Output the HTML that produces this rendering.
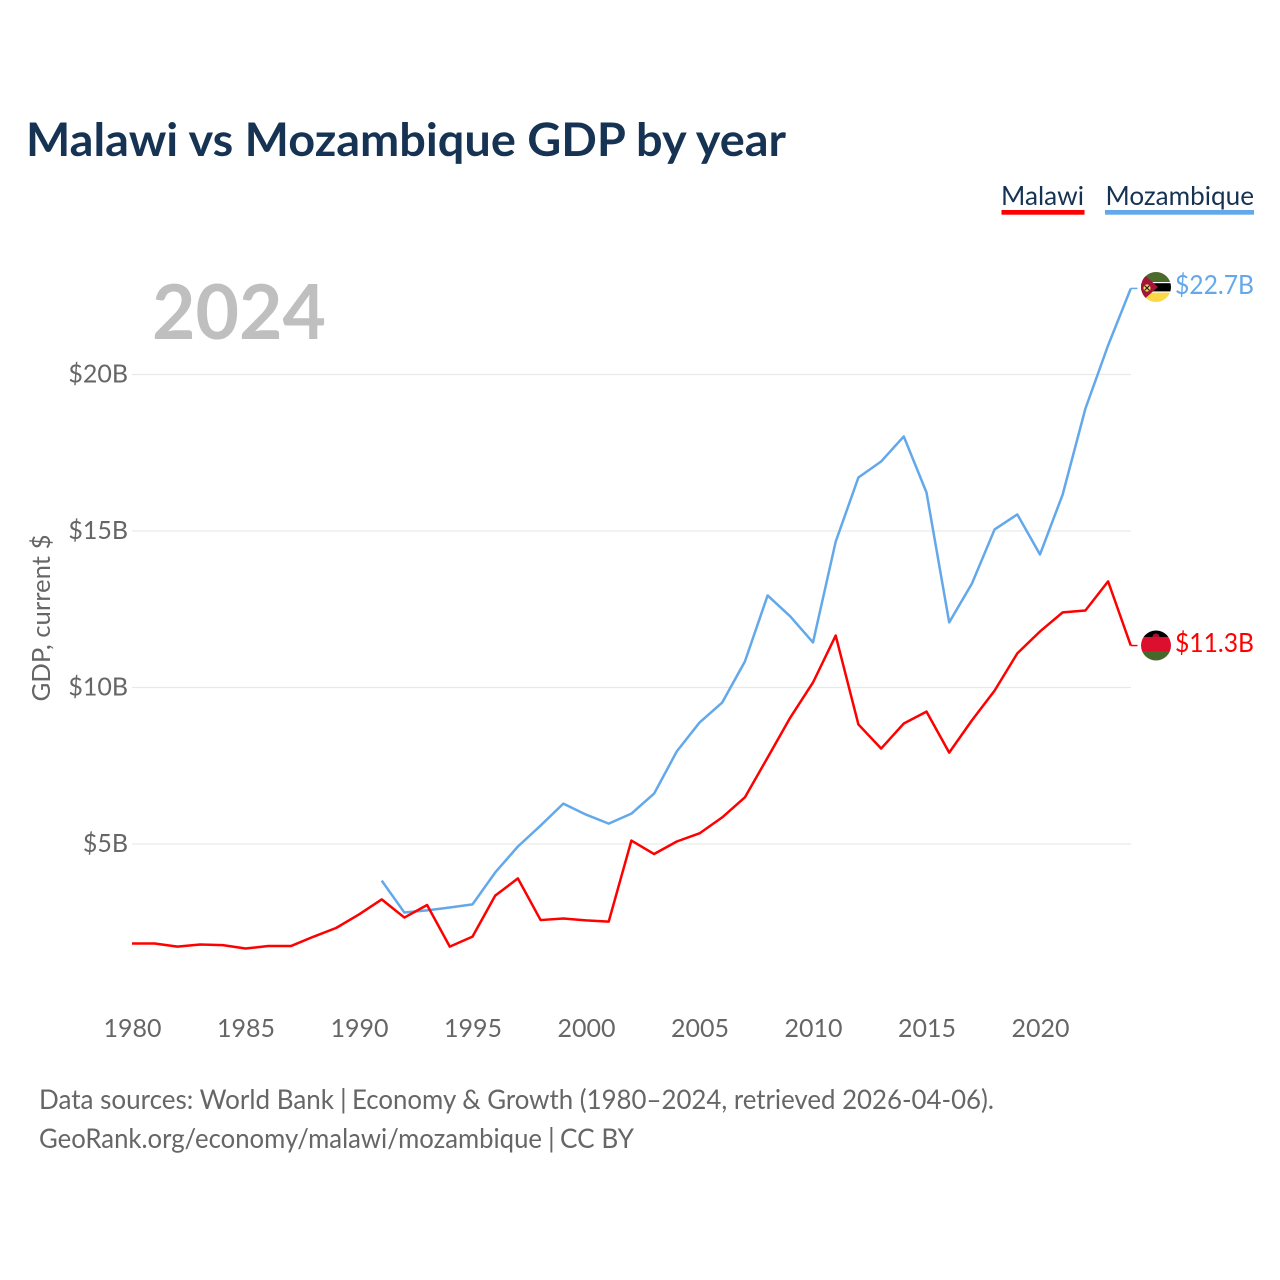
<!DOCTYPE html>
<html lang="en">
<head>
<meta charset="utf-8">
<title>Malawi vs Mozambique GDP by year</title>
<style>
html,body{margin:0;padding:0;background:#fff;width:1280px;height:1280px;overflow:hidden}
svg{display:block}
text{font-family:"Lato","Carlito","Liberation Sans",sans-serif}
</style>
</head>
<body>
<svg id="chart" xmlns="http://www.w3.org/2000/svg" width="1280" height="1280" viewBox="0 0 1280 1280">
<rect width="1280" height="1280" fill="#fff"/>
<text x="26" y="156" font-size="46" font-weight="700" fill="#163353" textLength="760" lengthAdjust="spacingAndGlyphs">Malawi vs Mozambique GDP by year</text>
<g>
<g>
<text x="1001" y="205" font-size="26" fill="#163353" textLength="83" lengthAdjust="spacingAndGlyphs">Malawi</text>
<rect x="1001.5" y="210" width="83" height="4.7" fill="#ff0000"/>
</g>
<g>
<text x="1105.5" y="205" font-size="26" fill="#163353" textLength="148.5" lengthAdjust="spacingAndGlyphs">Mozambique</text>
<rect x="1105" y="210" width="149" height="4.7" fill="#62a8ea"/>
</g>
</g>
<text x="152" y="339" font-size="76" font-weight="700" fill="#bfbfbf" textLength="174" lengthAdjust="spacingAndGlyphs">2024</text>
<text transform="translate(50,618) rotate(-90)" text-anchor="middle" font-size="25" fill="#666" textLength="167" lengthAdjust="spacingAndGlyphs">GDP, current $</text>
<g id="grid"></g>
<g id="yticks"></g>
<g id="xticks"></g>
<g id="series"></g>
<defs>
<clipPath id="clip-moz"><circle cx="1156" cy="287" r="15"/></clipPath>
<clipPath id="clip-mwi"><circle cx="1156" cy="645.5" r="15"/></clipPath>
</defs>
<g clip-path="url(#clip-moz)">
<rect x="1141" y="272" width="30" height="10" fill="#4a6b2a"/>
<rect x="1141" y="282" width="30" height="11" fill="#fff"/>
<rect x="1141" y="283.2" width="30" height="8.2" fill="#000"/>
<rect x="1141" y="292.6" width="30" height="10" fill="#fcd846"/>
<polygon points="1141,272 1158,287 1141,302" fill="#a5153a"/>
<circle cx="1147" cy="288" r="3.6" fill="#f4d35a"/>
<path d="M1144.5 285.5l5 5M1149.5 285.5l-5 5" stroke="#222" stroke-width="1.2"/>
</g>
<g clip-path="url(#clip-mwi)">
<rect x="1141" y="630" width="30" height="7" fill="#000"/>
<rect x="1141" y="637" width="30" height="14" fill="#dc0f2f"/>
<rect x="1141" y="651" width="30" height="10" fill="#47682b"/>
<path d="M1152.5 637a3.5 3.5 0 0 1 7 0z" fill="#a8112e"/>
</g>
<text x="1175" y="294" font-size="26" fill="#62a8ea" textLength="79" lengthAdjust="spacingAndGlyphs">$22.7B</text>
<text x="1175" y="652" font-size="26" fill="#ff0000" textLength="79" lengthAdjust="spacingAndGlyphs">$11.3B</text>
<text y="1109" font-size="27" fill="#666"><tspan x="39" textLength="295" lengthAdjust="spacingAndGlyphs">Data sources: World Bank</tspan> <tspan x="340">|</tspan> <tspan x="352" textLength="642" lengthAdjust="spacingAndGlyphs">Economy &amp; Growth (1980–2024, retrieved 2026-04-06).</tspan></text>
<a><text y="1148" font-size="27" fill="#666"><tspan x="39" textLength="503" lengthAdjust="spacingAndGlyphs">GeoRank.org/economy/malawi/mozambique</tspan> <tspan x="548">|</tspan> <tspan x="560" textLength="74" lengthAdjust="spacingAndGlyphs">CC BY</tspan></text></a>
</svg>
<script>
const years = [1980,1981,1982,1983,1984,1985,1986,1987,1988,1989,1990,1991,1992,1993,1994,1995,1996,1997,1998,1999,2000,2001,2002,2003,2004,2005,2006,2007,2008,2009,2010,2011,2012,2013,2014,2015,2016,2017,2018,2019,2020,2021,2022,2023,2024];
const malawi = [1.82,1.82,1.72,1.79,1.77,1.66,1.74,1.74,2.04,2.32,2.75,3.23,2.65,3.05,1.72,2.04,3.35,3.9,2.57,2.62,2.56,2.52,5.11,4.68,5.08,5.34,5.85,6.49,7.76,9.04,10.16,11.66,8.82,8.05,8.85,9.23,7.92,8.95,9.9,11.09,11.79,12.4,12.46,13.39,11.34];
const mozambique = [null,null,null,null,null,null,null,null,null,null,null,3.83,2.81,2.88,2.97,3.07,4.09,4.92,5.59,6.29,5.94,5.65,5.97,6.61,7.96,8.88,9.52,10.83,12.94,12.27,11.44,14.66,16.71,17.22,18.02,16.23,12.08,13.32,15.05,15.53,14.25,16.17,18.91,20.93,22.75];
const yTickValues = [5,10,15,20];
const xTickValues = [1980,1985,1990,1995,2000,2005,2010,2015,2020];

const NS = 'http://www.w3.org/2000/svg';
function xScale(year){ return 132 + (year - 1980) * 22.7; }
function yScale(v){ return 1000.5 - v * 31.3; }
function make(tag, attrs, parent){
  const el = document.createElementNS(NS, tag);
  for (const k in attrs) el.setAttribute(k, attrs[k]);
  parent.appendChild(el);
  return el;
}
const grid = document.getElementById('grid');
const yticks = document.getElementById('yticks');
const xticks = document.getElementById('xticks');
const seriesG = document.getElementById('series');
yTickValues.forEach(function(v){
  const line = make('line', {x1:132, x2:1131, y1:yScale(v), y2:yScale(v), stroke:'#e9e9e9', 'stroke-width':1.2}, grid);
  
  
  const t = make('text', {x:128, y:yScale(v)+8, 'text-anchor':'end', 'font-size':25, fill:'#666'}, yticks);
  t.textContent = '$' + v + 'B';
  
  
});
xTickValues.forEach(function(y){
  const t = make('text', {x:xScale(y)+0.5, y:1037, 'text-anchor':'middle', 'font-size':25, fill:'#666'}, xticks);
  t.textContent = String(y);
  
  
});
function drawLine(values, color, name){
  let d = '';
  values.forEach(function(v, i){
    if (v === null) return;
    d += (d ? 'L' : 'M') + xScale(years[i]).toFixed(2) + ' ' + yScale(v).toFixed(2);
  });
  const p = make('path', {d:d, fill:'none', stroke:color, 'stroke-width':2.5, 'stroke-linejoin':'round'}, seriesG);
  
  
  const last = values[values.length - 1];
  const c = make('line', {x1:xScale(years[years.length-1]), x2:1137.5, y1:yScale(last), y2:yScale(last), stroke:color, 'stroke-width':1.5}, seriesG);
  
  
}
drawLine(mozambique, '#62a8ea', 'line-mozambique');
drawLine(malawi, '#ff0000', 'line-malawi');
</script>
</body>
</html>
